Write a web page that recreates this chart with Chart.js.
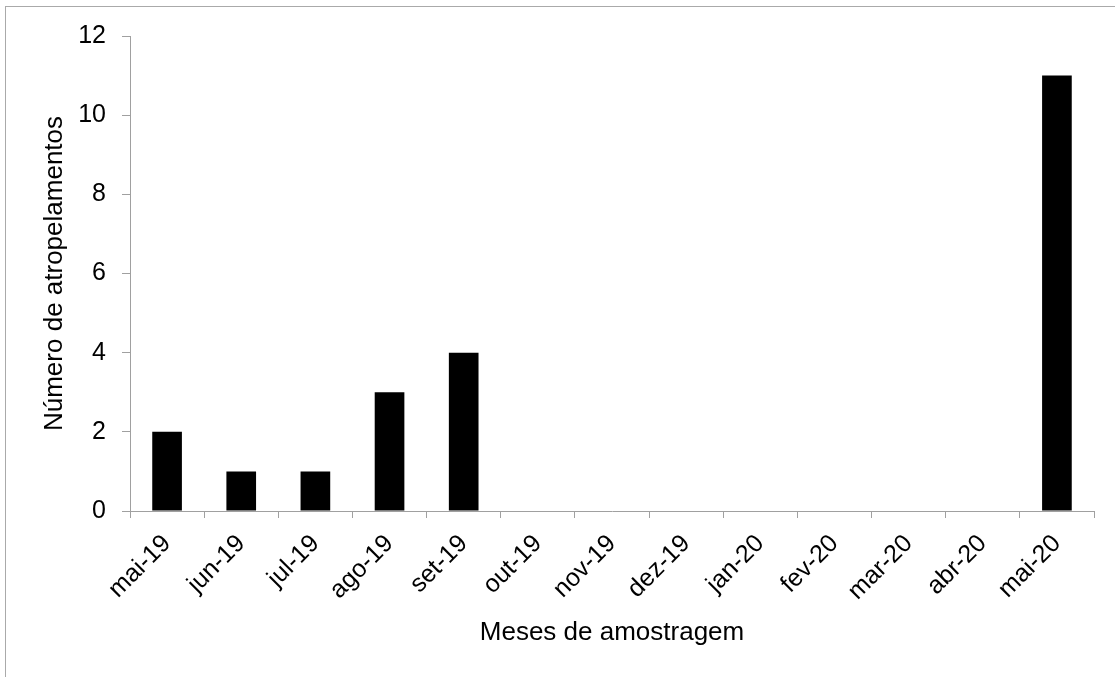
<!DOCTYPE html>
<html>
<head>
<meta charset="utf-8">
<script src="https://cdn.jsdelivr.net/npm/chart.js@4"></script>
<style>
  html, body { margin: 0; padding: 0; background: #fff; }
  #wrap { width: 1115px; height: 677px; }
</style>
</head>
<body>
<div id="wrap"><canvas id="c" width="1115" height="677"></canvas></div>
<script>
// Monthly sampling periods and road-kill counts
const months = ['mai-19', 'jun-19', 'jul-19', 'ago-19', 'set-19', 'out-19', 'nov-19',
                'dez-19', 'jan-20', 'fev-20', 'mar-20', 'abr-20', 'mai-20'];
const atropelamentos = [2, 1, 1, 3, 4, 0, 0, 0, 0, 0, 0, 0, 11];
const yTicks = [0, 2, 4, 6, 8, 10, 12];

const axisGray = '#a0a0a0';
const fontFamily = '"Liberation Sans", Arial, sans-serif';

// Thin frame around the whole figure
const framePlugin = {
  id: 'frame',
  beforeDraw(chart) {
    const ctx = chart.ctx;
    ctx.save();
    ctx.strokeStyle = '#aaaaaa';
    ctx.lineWidth = 1;
    ctx.strokeRect(5.5, 6.5, 3000, 3000);
    ctx.restore();
  }
};

new Chart(document.getElementById('c'), {
  type: 'bar',
  data: {
    labels: months,
    datasets: [{
      data: atropelamentos,
      backgroundColor: '#000000',
      borderWidth: 0,
      barPercentage: 0.4,
      categoryPercentage: 1.0
    }]
  },
  options: {
    responsive: false,
    animation: false,
    devicePixelRatio: 1,
    layout: { padding: { left: 10, right: 21, top: 36, bottom: 20 } },
    plugins: { legend: { display: false }, tooltip: { enabled: false } },
    scales: {
      x: {
        offset: true,
        grid: {
          offset: true,
          drawOnChartArea: false,
          drawTicks: true,
          tickLength: 7,
          color: axisGray
        },
        border: { display: true, color: axisGray, width: 1 },
        ticks: {
          minRotation: 45,
          maxRotation: 45,
          autoSkip: false,
          padding: 11,
          color: '#000',
          font: { family: fontFamily, size: 25 }
        },
        title: {
          display: true,
          text: 'Meses de amostragem',
          color: '#000',
          font: { family: fontFamily, size: 26 },
          padding: { top: 0, bottom: 9 }
        },
        afterFit(scale) { scale.height = 146; }
      },
      y: {
        min: 0,
        max: 12,
        afterBuildTicks(scale) { scale.ticks = yTicks.map(v => ({ value: v })); },
        grid: {
          drawOnChartArea: false,
          drawTicks: true,
          tickLength: 8,
          color: axisGray
        },
        border: { display: true, color: axisGray, width: 1 },
        ticks: {
          padding: 16,
          color: '#000',
          font: { family: fontFamily, size: 25 }
        },
        title: {
          display: true,
          text: 'Número de atropelamentos',
          color: '#000',
          font: { family: fontFamily, size: 26 },
          padding: { top: 29, bottom: 0 }
        },
        afterFit(scale) { scale.width = 120; }
      }
    }
  },
  plugins: [framePlugin]
});
</script>
</body>
</html>
